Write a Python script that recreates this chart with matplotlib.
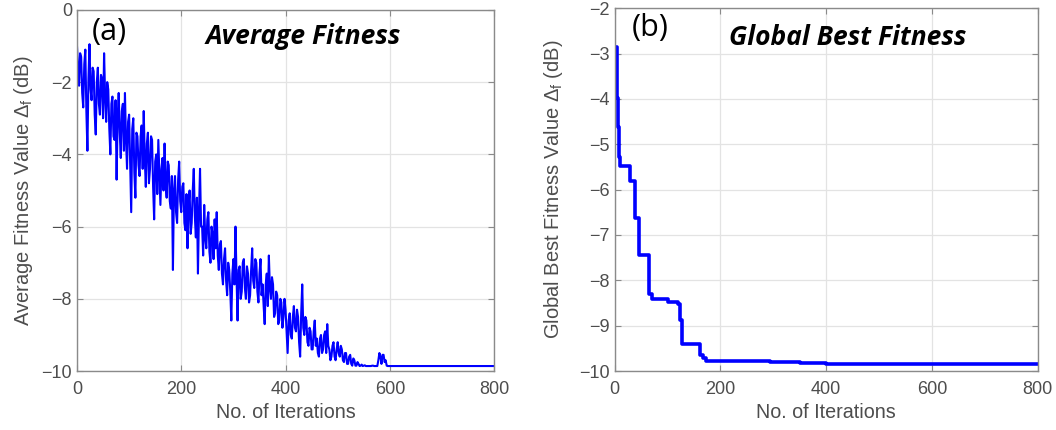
import matplotlib.pyplot as plt
import numpy as np

plt.rcParams['font.family'] = 'Liberation Sans'
plt.rcParams['mathtext.fontset'] = 'custom'
plt.rcParams['mathtext.rm'] = 'Liberation Sans'
plt.rcParams['mathtext.it'] = 'Liberation Sans:italic'

# average fitness, every 2 iterations up to 598
avg_iter = np.arange(0, 600, 2)
avg_fit = [
    -1.0, -1.6, -2.1, -1.2, -1.3, -2.3, -2.7, -1.5, -1.1, -2.8,
    -3.9, -1.9, -0.95, -2.2, -2.5, -1.6, -1.7, -2.9, -3.45, -2.0,
    -1.6, -2.6, -2.9, -1.8, -1.9, -3.0, -1.2, -2.4, -3.1, -2.0,
    -2.2, -3.3, -4.0, -2.6, -2.4, -3.5, -3.6, -2.5, -4.7, -3.0,
    -2.3, -3.4, -4.1, -2.8, -2.6, -3.9, -2.3, -3.6, -4.4, -3.1,
    -2.9, -4.2, -5.6, -3.3, -3.0, -4.5, -5.2, -3.4, -3.5, -4.3,
    -4.6, -3.5, -3.2, -4.4, -2.8, -4.1, -4.9, -3.7, -3.4, -4.8,
    -4.4, -3.5, -3.6, -4.9, -5.8, -4.2, -4.0, -5.1, -3.6, -4.5,
    -5.4, -4.4, -4.1, -5.0, -3.7, -4.8, -5.2, -4.2, -4.3, -5.3,
    -5.5, -4.6, -7.2, -5.0, -4.6, -5.6, -5.9, -4.7, -4.2, -5.3,
    -5.6, -4.9, -4.8, -5.9, -6.1, -5.1, -6.6, -5.4, -5.0, -6.2,
    -5.9, -5.0, -4.4, -5.7, -6.3, -5.2, -7.3, -5.6, -4.4, -6.0,
    -6.0, -6.8, -5.4, -6.3, -6.6, -5.8, -5.6, -6.7, -7.0, -6.0,
    -6.2, -6.9, -5.8, -6.6, -5.6, -6.8, -7.2, -6.5, -6.4, -7.3,
    -7.6, -6.9, -6.6, -7.5, -7.9, -7.0, -7.2, -7.8, -8.6, -7.3,
    -6.9, -7.6, -6.0, -7.4, -8.6, -7.2, -7.1, -8.0, -7.8, -7.0,
    -6.9, -7.7, -8.0, -7.1, -7.3, -8.1, -7.9, -7.2, -6.6, -7.5,
    -7.7, -6.9, -7.0, -7.8, -8.1, -7.3, -6.9, -7.9, -7.6, -8.2,
    -8.7, -7.6, -7.3, -8.2, -6.8, -7.7, -8.0, -7.4, -7.6, -8.5,
    -8.4, -7.8, -7.9, -8.7, -8.6, -8.0, -8.1, -8.8, -8.5, -8.0,
    -8.3, -8.9, -9.5, -8.6, -8.4, -9.0, -9.1, -8.5, -8.2, -8.8,
    -8.9, -8.3, -8.5, -9.2, -9.6, -8.4, -7.6, -8.8, -9.0, -8.5,
    -8.6, -9.2, -9.3, -8.8, -8.9, -9.4, -9.4, -8.9, -8.6, -9.3,
    -9.1, -9.5, -9.6, -9.1, -9.0, -9.5, -9.4, -9.0, -8.9, -9.5,
    -8.7, -9.3, -9.4, -9.7, -9.6, -9.3, -9.2, -9.6, -9.7, -9.4,
    -9.2, -9.5, -9.6, -9.3, -9.4, -9.7, -9.75, -9.5, -9.5, -9.8,
    -9.8, -9.6, -9.55, -9.8, -9.85, -9.65, -9.7, -9.85, -9.85, -9.75,
    -9.8, -9.86, -9.85, -9.82, -9.86, -9.85, -9.84, -9.86, -9.86, -9.86,
    -9.86, -9.86, -9.86, -9.85, -9.85, -9.86, -9.86, -9.86, -9.86, -9.7,
    -9.5, -9.6, -9.8, -9.55, -9.55, -9.75, -9.7, -9.85, -9.86, -9.86,
]
tail_iter = [600, 800]
tail_fit = [-9.86, -9.86]

# global best fitness: iteration where each level starts
best_iter = [0, 4, 7, 9, 11, 30, 39, 46, 66, 70, 101, 120, 124, 127,
             161, 168, 172, 293, 350, 400, 800]
best_fit = [-2.85, -3.97, -4.63, -5.29, -5.47, -5.82, -6.62, -7.44, -8.30,
            -8.42, -8.48, -8.53, -8.88, -9.41, -9.65, -9.72, -9.77, -9.80,
            -9.83, -9.85, -9.85]

fig = plt.figure(figsize=(10.56, 4.30), dpi=100)
ax1 = fig.add_axes([0.0729, 0.137, 0.395, 0.840])
ax2 = fig.add_axes([0.582, 0.137, 0.4006, 0.844])

ax1.plot(list(avg_iter) + tail_iter, avg_fit + tail_fit, color='#0000ff', lw=1.5)
ax2.step(best_iter, best_fit, where='post', color='#0000ff', lw=2.6)

for ax in (ax1, ax2):
    ax.set_xlim(0, 800)
    ax.set_xticks([0, 200, 400, 600, 800])
    ax.grid(True, color='#e3e3e3', lw=0.9)
    ax.set_axisbelow(True)
    ax.tick_params(direction='in', length=4, width=0.8, colors='#8a8a8a',
                   labelcolor='#4d4d4d', labelsize=13, top=True, right=True)
    ax.tick_params(axis='x', pad=7)
    for s in ax.spines.values():
        s.set_color('#8a8a8a')
        s.set_linewidth(1.0)
    ax.set_xlabel('No. of Iterations', fontsize=14.2, color='#4d4d4d', labelpad=4)

ax1.set_ylim(-10, 0)
ax1.set_yticks([-10, -8, -6, -4, -2, 0])
ax1.set_ylabel(r'Average Fitness Value $\Delta_{\rm f}$ (dB)', fontsize=14.5,
               color='#4d4d4d', labelpad=5)
ax2.set_ylim(-10, -2)
ax2.set_yticks(np.arange(-10, -1, 1))
ax2.set_ylabel(r'Global Best Fitness Value $\Delta_{\rm f}$ (dB)', fontsize=14.5,
               color='#4d4d4d', labelpad=10)

ax1.text(0.077, 0.94, '(a)', transform=ax1.transAxes, fontsize=22,
         family='Open Sans', ha='center', va='center')
ax1.text(0.542, 0.925, 'Average Fitness', transform=ax1.transAxes, fontsize=19,
         family='Open Sans', weight='bold', style='italic', ha='center', va='center')
ax2.text(0.083, 0.945, '(b)', transform=ax2.transAxes, fontsize=22,
         family='Open Sans', ha='center', va='center')
ax2.text(0.551, 0.92, 'Global Best Fitness', transform=ax2.transAxes, fontsize=19,
         family='Open Sans', weight='bold', style='italic', ha='center', va='center')

fig.savefig('out.png', dpi=100)
